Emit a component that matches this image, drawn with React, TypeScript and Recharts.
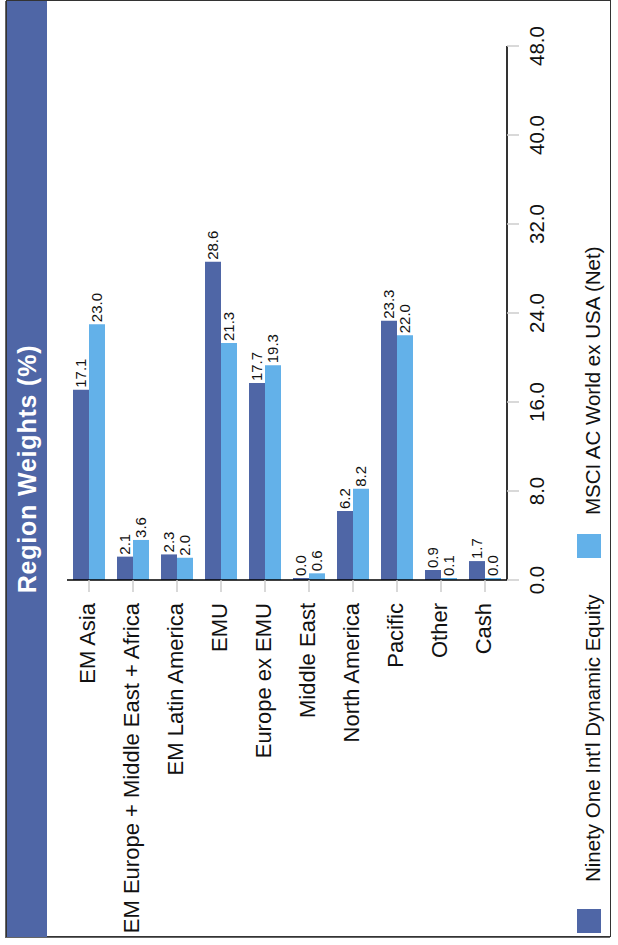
import React from 'react';
import { BarChart, Bar, XAxis, YAxis, LabelList } from 'recharts';

const categories = [
  'EM Asia',
  'EM Europe + Middle East + Africa',
  'EM Latin America',
  'EMU',
  'Europe ex EMU',
  'Middle East',
  'North America',
  'Pacific',
  'Other',
  'Cash',
];
const fundValues = [17.1, 2.1, 2.3, 28.6, 17.7, 0.0, 6.2, 23.3, 0.9, 1.7];
const benchValues = [23.0, 3.6, 2.0, 21.3, 19.3, 0.6, 8.2, 22.0, 0.1, 0.0];
const valueTicks = [0, 8, 16, 24, 32, 40, 48];
const seriesNames = ["Ninety One Int'l Dynamic Equity", 'MSCI AC World ex USA (Net)'];
const title = 'Region Weights (%)';

const DARK = '#4F66A6';
const LIGHT = '#63B1E9';
const FONT = '"Liberation Sans", Arial, Helvetica, sans-serif';

const data = categories.map((region, i) => ({
  region,
  fund: fundValues[i],
  bench: benchValues[i],
}));

const CatTick = (props: any) => {
  const { x, y, payload } = props;
  return (
    <text x={x} y={y} dy="0.28em" textAnchor="end" fontSize={22} fontFamily={FONT} fill="#111">
      {payload.value}
    </text>
  );
};

const ValTick = (props: any) => {
  const { x, y, payload } = props;
  return (
    <text x={x} y={y} dy="0.71em" textAnchor="middle" fontSize={20.5} fontFamily={FONT} fill="#111">
      {Number(payload.value).toFixed(1)}
    </text>
  );
};

const fmt = (v: any) => Number(v).toFixed(1);

export default function App() {
  return (
    <div style={{ position: 'absolute', left: 0, top: 0, width: 618, height: 945, overflow: 'hidden', background: '#fff' }}>
      <div
        style={{
          position: 'absolute',
          left: 6,
          top: 0,
          width: 605,
          height: 937,
          boxSizing: 'border-box',
          border: '1px solid #333',
          boxShadow: '-1px 1px 0 #666',
        }}
      />
      <div
        style={{
          position: 'absolute',
          left: 0,
          top: 0,
          width: 945,
          height: 618,
          transformOrigin: '0 0',
          transform: 'translateY(945px) rotate(-90deg)',
        }}
      >
        <div
          style={{
            position: 'absolute',
            left: 8,
            top: 7,
            width: 936,
            height: 40,
            background: DARK,
            color: '#fff',
            fontFamily: FONT,
            fontWeight: 'bold',
            fontSize: 25,
            letterSpacing: 0.8,
            lineHeight: '40px',
            textAlign: 'center',
            whiteSpace: 'nowrap',
          }}
        >
          {title}
        </div>
        <div style={{ position: 'absolute', left: 0, top: 0 }}>
          <BarChart
            width={945}
            height={618}
            layout="vertical"
            data={data}
            margin={{ top: 67, right: 46, bottom: 61, left: 0 }}
            barCategoryGap={6}
            barGap={0}
          >
            <XAxis
              type="number"
              domain={[0, 48]}
              ticks={valueTicks}
              interval={0}
              height={50}
              tickSize={12}
              tickMargin={10}
              axisLine={{ stroke: '#000', strokeWidth: 1.6 }}
              tickLine={{ stroke: '#ccc', strokeWidth: 1.5 }}
              tick={<ValTick />}
            />
            <YAxis
              type="category"
              dataKey="region"
              width={365}
              interval={0}
              tickSize={12}
              tickMargin={11}
              axisLine={{ stroke: '#000', strokeWidth: 1.6 }}
              tickLine={{ stroke: '#ccc', strokeWidth: 1.5 }}
              tick={<CatTick />}
            />
            <Bar dataKey="fund" name={seriesNames[0]} fill={DARK} isAnimationActive={false} minPointSize={2}>
              <LabelList dataKey="fund" position="right" offset={2} formatter={fmt} fontSize={15} fontFamily={FONT} fill="#111" />
            </Bar>
            <Bar dataKey="bench" name={seriesNames[1]} fill={LIGHT} isAnimationActive={false} minPointSize={2}>
              <LabelList dataKey="bench" position="right" offset={2} formatter={fmt} fontSize={15} fontFamily={FONT} fill="#111" />
            </Bar>
          </BarChart>
        </div>
        <svg width={945} height={618} style={{ position: 'absolute', left: 0, top: 0, pointerEvents: 'none' }}>
          <rect x={12} y={577} width={24} height={24} fill={DARK} />
          <text x={63} y={600} fontSize={20.5} fontFamily={FONT} fill="#111">
            {seriesNames[0]}
          </text>
          <rect x={387} y={577} width={24} height={24} fill={LIGHT} />
          <text x={430} y={600} fontSize={20.5} fontFamily={FONT} fill="#111">
            {seriesNames[1]}
          </text>
        </svg>
      </div>
    </div>
  );
}
